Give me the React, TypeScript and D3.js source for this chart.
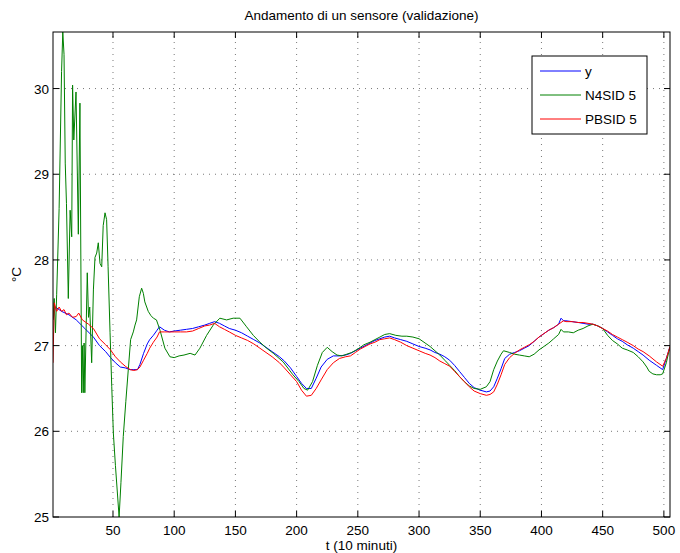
import React from "react";
import * as d3 from "d3";

const tBlue = [1,3,8,14,20,27,34,39,44,48,52,56,60,64,67,70,72,75,78,80,83,86,88,92,96,100,105,110,115,120,125,129,133,137,141,145,150,155,160,165,170,175,180,186,190,195,200,204,208,212,216,220,225,230,235,240,244,248,252,256,260,264,268,272,276,280,285,290,295,300,305,309,313,317,321,325,329,333,337,341,345,350,355,358,361,364,367,370,374,378,382,386,390,394,398,402,406,410,414,416,418,420,425,430,434,438,442,446,450,454,458,462,466,470,475,479,483,488,494,499,502,505];
const yBlue = [27.30,27.45,27.40,27.36,27.30,27.20,27.10,27.00,26.93,26.86,26.80,26.75,26.74,26.72,26.72,26.72,26.78,26.91,27.02,27.07,27.12,27.18,27.22,27.18,27.16,27.17,27.18,27.19,27.20,27.22,27.24,27.26,27.28,27.26,27.23,27.20,27.18,27.15,27.11,27.07,27.03,26.98,26.93,26.87,26.82,26.74,26.64,26.56,26.50,26.50,26.62,26.75,26.84,26.88,26.88,26.89,26.91,26.94,26.97,27.00,27.03,27.06,27.08,27.10,27.11,27.09,27.07,27.05,27.02,26.99,26.97,26.95,26.92,26.90,26.87,26.83,26.77,26.70,26.63,26.56,26.51,26.48,26.46,26.47,26.52,26.62,26.73,26.85,26.90,26.92,26.94,26.97,27.00,27.05,27.10,27.14,27.18,27.21,27.25,27.32,27.29,27.29,27.28,27.27,27.26,27.25,27.25,27.23,27.20,27.16,27.12,27.08,27.05,27.01,26.97,26.93,26.89,26.83,26.77,26.72,26.85,26.99];

const tRed = [1,2,4,6,8,10,12,14,17,20,22,25,30,34,39,44,48,52,56,60,64,67,70,72,75,78,80,83,86,88,92,96,100,105,110,115,120,125,129,133,137,141,145,150,155,160,165,170,175,180,186,190,195,200,204,208,212,216,220,225,230,235,240,244,248,252,256,260,264,268,272,276,280,285,290,295,300,305,309,313,317,321,325,329,333,337,341,345,350,355,358,361,364,367,370,374,378,382,386,390,394,398,402,406,410,414,418,420,425,430,434,438,442,446,450,454,458,462,466,470,475,479,483,488,494,499,502,505];
const yRed = [26.80,27.50,27.40,27.45,27.40,27.42,27.36,27.38,27.33,27.34,27.38,27.30,27.25,27.20,27.08,27.01,26.95,26.87,26.81,26.76,26.72,26.71,26.72,26.75,26.83,26.91,26.97,27.04,27.10,27.16,27.16,27.16,27.16,27.16,27.16,27.17,27.20,27.23,27.24,27.26,27.22,27.19,27.16,27.12,27.09,27.06,27.02,26.97,26.92,26.87,26.80,26.74,26.66,26.58,26.48,26.41,26.42,26.50,26.60,26.72,26.80,26.85,26.87,26.88,26.92,26.96,26.99,27.02,27.04,27.07,27.08,27.09,27.07,27.04,27.00,26.97,26.94,26.91,26.89,26.86,26.82,26.79,26.76,26.70,26.64,26.58,26.52,26.47,26.44,26.42,26.43,26.46,26.55,26.66,26.78,26.86,26.91,26.95,26.98,27.01,27.05,27.10,27.14,27.18,27.21,27.25,27.29,27.28,27.28,27.27,27.27,27.26,27.25,27.23,27.20,27.17,27.13,27.10,27.07,27.04,27.00,26.96,26.93,26.88,26.81,26.76,26.85,26.99];

const tGreen = [1,2,3,4,6,8,9,10,11,12,13.5,15,16.3,17,18,19.8,21.7,23,24.4,25,25.7,26.4,27,29,30,31,32.6,34,35.3,36.7,38,39.4,40.8,42,43.5,44.8,46,47.6,49,50.3,52,55,56.5,58.4,60.5,62.5,64.4,66.6,68,69.3,71.5,73.4,74.8,76,78.8,81,83,85.5,88.4,92.4,96.5,100,104,108,113,117,121,126.5,131.9,137.3,142.8,148.2,153.7,159.1,164.6,170,175.5,181,189,197,202,206,209,213,217,221,225,229,233,237,241,245,250,255,260,264,268,272,276,281,286,290,295,300,305,309,313,317,321,325,329,333,337,341,345,350,355,358,361,364,367,369,374,378,382,386,390,394,398,402,406,410,414,416,418,422,426,430,434,438,442,446,450,454,458,462,466,470,475,479,483,486,488,491,494,497,499,502,505];
const yGreen = [27.30,27.55,27.15,27.60,28.60,30.20,30.66,30.40,29.13,28.66,27.55,28.58,28.27,30.04,29.40,29.96,28.30,29.83,26.45,27.00,26.45,27.03,26.45,27.85,27.33,27.45,26.80,27.65,28.03,28.08,28.20,27.96,27.92,28.40,28.55,28.47,27.92,27.15,26.52,25.98,25.60,25.00,25.40,25.94,26.35,26.72,27.07,27.16,27.24,27.30,27.57,27.67,27.61,27.51,27.40,27.35,27.32,27.30,27.18,26.97,26.87,26.86,26.88,26.89,26.91,26.89,26.97,27.12,27.24,27.32,27.30,27.32,27.32,27.22,27.12,27.04,26.97,26.91,26.81,26.66,26.58,26.50,26.48,26.58,26.77,26.92,26.98,26.93,26.89,26.88,26.90,26.92,26.96,27.01,27.04,27.07,27.10,27.13,27.14,27.12,27.11,27.11,27.10,27.08,27.03,26.99,26.94,26.89,26.83,26.77,26.71,26.64,26.58,26.53,26.50,26.49,26.52,26.58,26.72,26.82,26.90,26.94,26.92,26.90,26.89,26.88,26.87,26.90,26.95,26.99,27.03,27.08,27.13,27.19,27.16,27.16,27.15,27.18,27.20,27.23,27.25,27.23,27.20,27.12,27.06,27.02,26.97,26.95,26.92,26.87,26.81,26.75,26.70,26.67,26.66,26.66,26.67,26.80,26.99];

const xTicks = [50,100,150,200,250,300,350,400,450,500];
const yTicks = [25,26,27,28,29,30];
const seriesNames = ["y", "N4SID 5", "PBSID 5"];
const seriesColors = ["#0000ff", "#008000", "#ff0000"];

const W = 680, H = 553;
const L = 53, R = 670, T = 32, B = 517;
const FONT = "'Liberation Sans', Arial, Helvetica, sans-serif";
const FS = 13.5;

export default function App() {
  const x = d3.scaleLinear().domain([1, 505]).range([L, R]);
  const y = d3.scaleLinear().domain([25, 30.66]).range([B, T]);
  const line = d3.line<[number, number]>().x(d => x(d[0])).y(d => y(d[1]));
  const mk = (ts: number[], vs: number[]) => ts.map((t, i) => [t, vs[i]] as [number, number]);
  const series = [mk(tBlue, yBlue), mk(tGreen, yGreen), mk(tRed, yRed)];
  const drawOrder = [0, 1, 2];
  const lgX = 532, lgY = 56, lgW = 115, lgH = 78;
  return (
    <svg width={W} height={H} style={{ position: "absolute", left: 0, top: 0, background: "#fff" }} fontFamily={FONT}>
      <defs>
        <clipPath id="plotclip"><rect x={L} y={T} width={R - L} height={B - T} /></clipPath>
      </defs>
      <rect x={0} y={0} width={W} height={H} fill="#fff" />
      {xTicks.map(t => (
        <line key={"gx" + t} x1={x(t)} x2={x(t)} y1={B} y2={T} stroke="#555" strokeWidth={0.8} strokeDasharray="1 5" />
      ))}
      {yTicks.filter(v => v > 25).map(v => (
        <line key={"gy" + v} x1={L} x2={R} y1={y(v)} y2={y(v)} stroke="#555" strokeWidth={0.8} strokeDasharray="1 5" />
      ))}
      <g clipPath="url(#plotclip)">
        {drawOrder.map(i => (
          <path key={"s" + i} d={line(series[i]) || ""} fill="none" stroke={seriesColors[i]} strokeWidth={1} />
        ))}
      </g>
      <rect x={L} y={T} width={R - L} height={B - T} fill="none" stroke="#000" strokeWidth={1} />
      {xTicks.map(t => (
        <g key={"tx" + t}>
          <line x1={x(t)} x2={x(t)} y1={B} y2={B - 6} stroke="#000" />
          <line x1={x(t)} x2={x(t)} y1={T} y2={T + 6} stroke="#000" />
          <text x={x(t)} y={B + 18} textAnchor="middle" fontSize={FS}>{t}</text>
        </g>
      ))}
      {yTicks.map(v => (
        <g key={"ty" + v}>
          <line x1={L} x2={L + 6} y1={y(v)} y2={y(v)} stroke="#000" />
          <line x1={R} x2={R - 6} y1={y(v)} y2={y(v)} stroke="#000" />
          <text x={L - 4} y={y(v) + 5} textAnchor="end" fontSize={FS}>{v}</text>
        </g>
      ))}
      <text x={(L + R) / 2} y={19.5} textAnchor="middle" fontSize={FS}>Andamento di un sensore (validazione)</text>
      <text x={(L + R) / 2} y={550} textAnchor="middle" fontSize={FS}>t (10 minuti)</text>
      <text transform={`translate(21,${(T + B) / 2}) rotate(-90)`} textAnchor="middle" fontSize={FS}>°C</text>
      <rect x={lgX} y={lgY} width={lgW} height={lgH} fill="#fff" stroke="#000" strokeWidth={1} />
      {seriesNames.map((n, i) => (
        <g key={"lg" + i}>
          <line x1={lgX + 8} x2={lgX + 49} y1={lgY + 15 + i * 24} y2={lgY + 15 + i * 24} stroke={seriesColors[i]} strokeWidth={1} />
          <text x={lgX + 53} y={lgY + 20 + i * 24} fontSize={FS}>{n}</text>
        </g>
      ))}
    </svg>
  );
}
